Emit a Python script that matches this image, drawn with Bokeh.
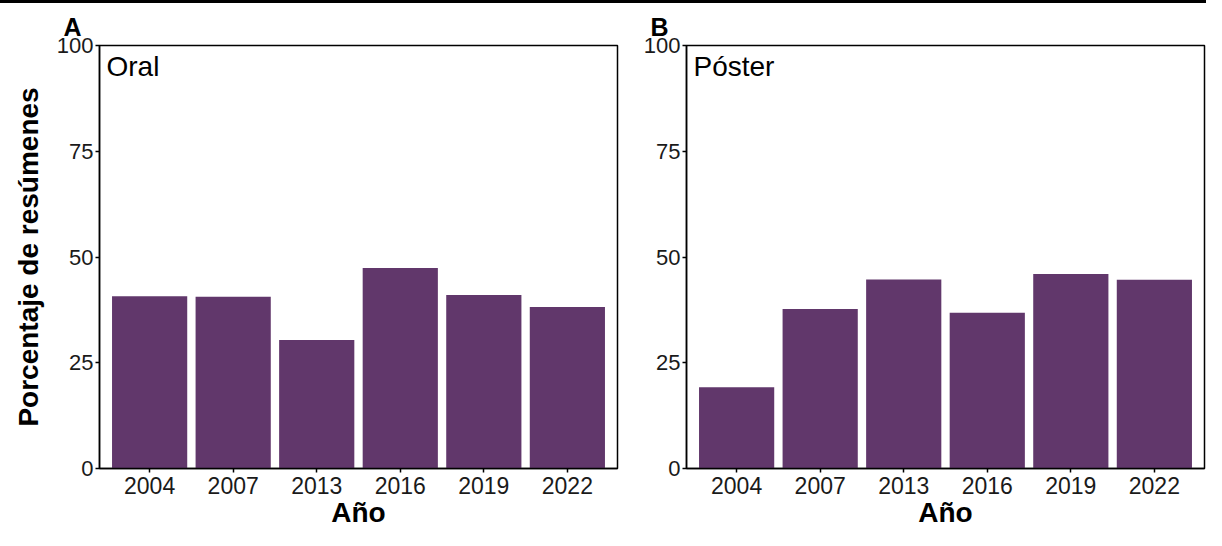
from bokeh.plotting import figure
from bokeh.models import FactorRange, Range1d, FixedTicker, Label
from bokeh.layouts import row
from bokeh.embed import file_html
from bokeh.resources import INLINE

years = ["2004", "2007", "2013", "2016", "2019", "2022"]
oral = [40.7, 40.6, 30.4, 47.4, 41.0, 38.2]
poster = [19.2, 37.7, 44.7, 36.8, 46.0, 44.6]
y_ticks = [0, 25, 50, 75, 100]

FONT = "Liberation Sans"
BAR = "#61376B"


def panel(vals, tag, name, width, left, right, ylabel):
    p = figure(
        x_range=FactorRange(factors=years, range_padding=0.1, range_padding_units="absolute"),
        y_range=Range1d(0, 100),
        width=width, height=527,
        min_border_left=left, min_border_right=right,
        min_border_top=42, min_border_bottom=58,
        toolbar_location=None, output_backend="svg",
        title=tag,
    )
    p.title.align = "left"
    p.title.offset = -36
    p.title.standoff = 9
    p.title.text_font = FONT
    p.title.text_font_size = "25px"
    p.title.text_font_style = "bold"
    p.title.text_color = "black"

    p.vbar(x=years, top=vals, width=0.9, fill_color=BAR, line_color=None)
    p.xgrid.visible = False
    p.ygrid.visible = False
    p.outline_line_color = "black"
    p.outline_line_width = 1.5
    p.outline_line_alpha = 1

    p.yaxis.ticker = FixedTicker(ticks=y_ticks)
    for ax in (p.xaxis[0], p.yaxis[0]):
        ax.major_tick_in = 0
        ax.major_tick_out = 4
        ax.minor_tick_line_color = None
        ax.axis_line_width = 1.5
        ax.axis_line_color = "black"
        ax.major_tick_line_width = 1.5
        ax.major_tick_line_color = "black"
        ax.major_label_text_font = FONT
        ax.major_label_text_color = "#1a1a1a"
        ax.axis_label_text_font = FONT
        ax.axis_label_text_font_style = "bold"
        ax.axis_label_text_color = "black"
        ax.axis_label_text_font_size = "28px"
    p.yaxis.major_label_standoff = 2
    p.xaxis.major_label_standoff = 4
    p.yaxis.major_label_text_font_size = "22px"
    p.xaxis.major_label_text_font_size = "23px"
    p.xaxis.axis_label = "Año"
    p.xaxis.axis_label_standoff = 0
    if ylabel:
        p.yaxis.axis_label = ylabel
        p.yaxis.axis_label_standoff = 10

    p.add_layout(Label(x=-0.1, y=100, x_offset=7, y_offset=-5, text=name,
                       text_baseline="top", text_font=FONT, text_font_size="28px",
                       text_color="black"))
    return p


pA = panel(oral, "A", "Oral", 623, 99, 6, "Porcentaje de resúmenes")
pB = panel(poster, "B", "Póster", 583, 63, 2, None)

layout = row(pA, pB, styles={"border-top": "3px solid black"})
open("out.html", "w").write(file_html(layout, INLINE))
